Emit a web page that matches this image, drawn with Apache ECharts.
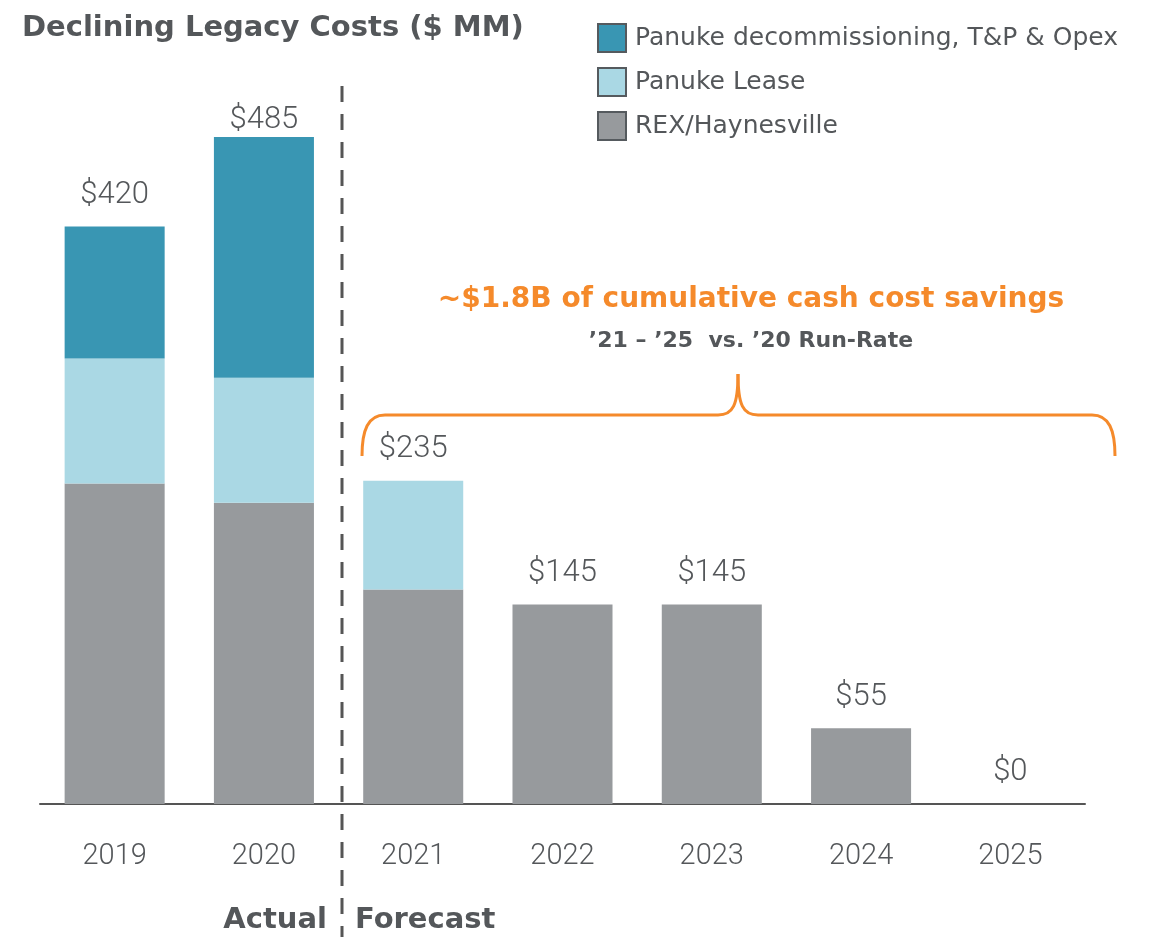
<!DOCTYPE html>
<html>
<head>
<meta charset="utf-8">
<script src="https://cdn.jsdelivr.net/npm/echarts@6/dist/echarts.min.js"></script>
<style>
html,body{margin:0;padding:0;background:#fff;}
#chart{width:1155px;height:937px;}
</style>
</head>
<body>
<div id="chart"></div>
<script>
const categories = ['2019','2020','2021','2022','2023','2024','2025'];
const rexHaynesville = [233, 219, 156, 145, 145, 55, 0];
const panukeLease = [91, 91, 79, 0, 0, 0, 0];
const panukeDecom = [96, 175, 0, 0, 0, 0, 0];
const totals = [420, 485, 235, 145, 145, 55, 0];
const seriesNames = ['Panuke decommissioning, T&P & Opex', 'Panuke Lease', 'REX/Haynesville'];

const textColor = '#54575a';
const numFont = 'Roboto';
const orange = '#f58a2b';

const chart = echarts.init(document.getElementById('chart'), null, {renderer:'canvas'});
const braceStyle = {stroke: orange, lineWidth: 3, fill: null};
const totalData = totals.map((v, i) => (v === 485 ? {value: v, label: {distance: 1}} : v));
const option = {
  animation: false,
  backgroundColor: '#fff',
  grid: {left: 40, right: 70, top: 137, bottom: 133, containLabel: false},
  legend: {
    orient: 'vertical', left: 592, top: 18, itemWidth: 28, itemHeight: 28, itemGap: 14, icon: 'rect',
    data: seriesNames,
    itemStyle: {borderColor: '#555a5e', borderWidth: 2},
    textStyle: {fontFamily: '"DejaVu Sans"', fontSize: 25, color: textColor, padding: [0,0,0,4]},
    selectedMode: false
  },
  xAxis: {
    type: 'category', data: categories,
    axisLine: {lineStyle: {color: '#555', width: 2}},
    axisTick: {show: false},
    axisLabel: {fontFamily: numFont, fontSize: 29, fontWeight: 300, color: textColor, margin: 38}
  },
  yAxis: {type: 'value', min: 0, max: 485, show: false, splitLine: {show: false}},
  series: [
    {name: 'REX/Haynesville', type: 'bar', stack: 'c', data: rexHaynesville, barWidth: '67%', itemStyle: {color: '#979a9d'}},
    {name: 'Panuke Lease', type: 'bar', stack: 'c', data: panukeLease, itemStyle: {color: '#aad8e4'}},
    {name: 'Panuke decommissioning, T&P & Opex', type: 'bar', stack: 'c', data: panukeDecom, itemStyle: {color: '#3996b3'}},
    {name: 'total', type: 'bar', data: totalData, barGap: '-100%', barWidth: '67%', silent: true,
     itemStyle: {color: 'rgba(0,0,0,0)'}, z: 1,
     label: {show: true, position: 'top', distance: 16, formatter: p => '$' + p.value,
             fontFamily: numFont, fontSize: 31, fontWeight: 300, color: textColor}}
  ],
  graphic: [
    {type: 'text', x: 22, y: 28, style: {text: 'Declining Legacy Costs ($ MM)', font: 'bold 29px "DejaVu Sans"', fill: textColor, textVerticalAlign: 'middle'}},
    {type: 'line', shape: {x1: 342, y1: 86, x2: 342, y2: 937}, style: {stroke: '#555', lineWidth: 3, lineDash: [16, 12]}},
    {type: 'text', x: 327, y: 920, style: {text: 'Actual', font: 'bold 29px "DejaVu Sans"', fill: textColor, textAlign: 'right', textVerticalAlign: 'middle'}},
    {type: 'text', x: 355, y: 920, style: {text: 'Forecast', font: 'bold 29px "DejaVu Sans"', fill: textColor, textAlign: 'left', textVerticalAlign: 'middle'}},
    {type: 'text', x: 751, y: 300, style: {text: '~$1.8B of cumulative cash cost savings', font: 'bold 28px "DejaVu Sans"', fill: orange, textAlign: 'center', textVerticalAlign: 'middle'}},
    {type: 'text', x: 751, y: 341, style: {text: '’21 – ’25  vs. ’20 Run-Rate', font: 'bold 22px "DejaVu Sans"', fill: textColor, textAlign: 'center', textVerticalAlign: 'middle'}},
    {type: 'bezierCurve', shape: {x1: 362, y1: 456, cpx1: 362, cpy1: 430, cpx2: 368, cpy2: 415, x2: 385, y2: 415}, style: braceStyle},
    {type: 'line', shape: {x1: 385, y1: 415, x2: 718, y2: 415}, style: braceStyle},
    {type: 'bezierCurve', shape: {x1: 718, y1: 415, cpx1: 733, cpy1: 415, cpx2: 738, cpy2: 405, x2: 738, y2: 374}, style: braceStyle},
    {type: 'bezierCurve', shape: {x1: 738, y1: 374, cpx1: 738, cpy1: 405, cpx2: 743, cpy2: 415, x2: 758, y2: 415}, style: braceStyle},
    {type: 'line', shape: {x1: 758, y1: 415, x2: 1092, y2: 415}, style: braceStyle},
    {type: 'bezierCurve', shape: {x1: 1092, y1: 415, cpx1: 1109, cpy1: 415, cpx2: 1115, cpy2: 430, x2: 1115, y2: 456}, style: braceStyle}
  ]
};
chart.setOption(option);
</script>
</body>
</html>
